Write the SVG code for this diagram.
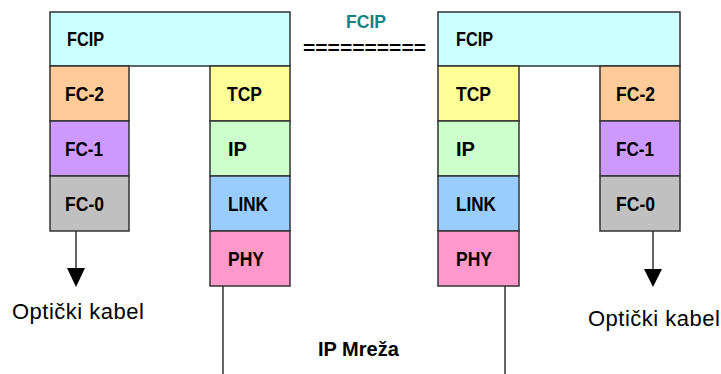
<svg xmlns="http://www.w3.org/2000/svg" width="721" height="374" viewBox="0 0 721 374">
  <style>
    .box { stroke: #333333; stroke-width: 1.5; }
    .lbl { font-family: "Liberation Sans", Arial, sans-serif; font-weight: bold; font-size: 20px; fill: #000000; }
    .cap { font-family: "Liberation Sans", Arial, sans-serif; font-size: 22px; letter-spacing: 0.5px; fill: #000000; }
    .net { font-family: "Liberation Sans", Arial, sans-serif; font-weight: bold; font-size: 20px; fill: #000000; }
    .link { stroke: #333333; stroke-width: 1.5; fill: none; }
    .fcip { fill: #CCFFFF; } .fc2 { fill: #FFCC99; } .fc1 { fill: #CC99FF; } .fc0 { fill: #C0C0C0; }
    .tcp { fill: #FFFF99; } .ip { fill: #CCFFCC; } .lnk { fill: #99CCFF; } .phy { fill: #FF99CC; }
  </style>
  <rect width="721" height="374" fill="#FFFFFF"/>

  <!-- left stack -->
  <g id="left-fcip"><rect class="box fcip" x="50" y="12" width="240" height="54"/><text class="lbl" x="67" y="46" textLength="37" lengthAdjust="spacingAndGlyphs">FCIP</text></g>
  <g id="left-fc2"><rect class="box fc2" x="50" y="66" width="79" height="55"/><text class="lbl" x="65" y="101" textLength="39" lengthAdjust="spacingAndGlyphs">FC-2</text></g>
  <g id="left-fc1"><rect class="box fc1" x="50" y="121" width="79" height="55"/><text class="lbl" x="65" y="156" textLength="38" lengthAdjust="spacingAndGlyphs">FC-1</text></g>
  <g id="left-fc0"><rect class="box fc0" x="50" y="176" width="79" height="55"/><text class="lbl" x="65" y="211" textLength="39" lengthAdjust="spacingAndGlyphs">FC-0</text></g>
  <g id="left-tcp"><rect class="box tcp" x="210" y="66" width="80" height="55"/><text class="lbl" x="227" y="101" textLength="35" lengthAdjust="spacingAndGlyphs">TCP</text></g>
  <g id="left-ip"><rect class="box ip" x="210" y="121" width="80" height="55"/><text class="lbl" x="228" y="156" textLength="19" lengthAdjust="spacingAndGlyphs">IP</text></g>
  <g id="left-link"><rect class="box lnk" x="210" y="176" width="80" height="55"/><text class="lbl" x="228" y="211" textLength="40" lengthAdjust="spacingAndGlyphs">LINK</text></g>
  <g id="left-phy"><rect class="box phy" x="210" y="231" width="80" height="55"/><text class="lbl" x="228" y="266" textLength="36" lengthAdjust="spacingAndGlyphs">PHY</text></g>

  <!-- right stack -->
  <g id="right-fcip"><rect class="box fcip" x="438" y="12" width="242" height="54"/><text class="lbl" x="456" y="46" textLength="37" lengthAdjust="spacingAndGlyphs">FCIP</text></g>
  <g id="right-tcp"><rect class="box tcp" x="438" y="66" width="81" height="55"/><text class="lbl" x="456" y="101" textLength="35" lengthAdjust="spacingAndGlyphs">TCP</text></g>
  <g id="right-ip"><rect class="box ip" x="438" y="121" width="81" height="55"/><text class="lbl" x="456" y="156" textLength="19" lengthAdjust="spacingAndGlyphs">IP</text></g>
  <g id="right-link"><rect class="box lnk" x="438" y="176" width="81" height="55"/><text class="lbl" x="456" y="211" textLength="40" lengthAdjust="spacingAndGlyphs">LINK</text></g>
  <g id="right-phy"><rect class="box phy" x="438" y="231" width="81" height="55"/><text class="lbl" x="456" y="266" textLength="36" lengthAdjust="spacingAndGlyphs">PHY</text></g>
  <g id="right-fc2"><rect class="box fc2" x="600" y="66" width="80" height="55"/><text class="lbl" x="616" y="101" textLength="39" lengthAdjust="spacingAndGlyphs">FC-2</text></g>
  <g id="right-fc1"><rect class="box fc1" x="600" y="121" width="80" height="55"/><text class="lbl" x="616" y="156" textLength="38" lengthAdjust="spacingAndGlyphs">FC-1</text></g>
  <g id="right-fc0"><rect class="box fc0" x="600" y="176" width="80" height="55"/><text class="lbl" x="616" y="211" textLength="39" lengthAdjust="spacingAndGlyphs">FC-0</text></g>

  <!-- peer link between the two FCIP layers -->
  <g id="fcip-peer">
    <text x="346" y="28" font-family="Liberation Sans, Arial, sans-serif" font-weight="bold" font-size="18" fill="#138282" textLength="40" lengthAdjust="spacingAndGlyphs">FCIP</text>
    <text x="303" y="54" font-family="Liberation Sans, Arial, sans-serif" font-weight="bold" font-size="18" fill="#000000" textLength="123" lengthAdjust="spacingAndGlyphs">==========</text>
  </g>

  <!-- connectors -->
  <g id="connectors">
    <line class="link" x1="76" y1="231" x2="76" y2="270"/>
    <polygon points="67,268 85,268 76,287" fill="#000000"/>
    <line class="link" x1="653" y1="231" x2="653" y2="270"/>
    <polygon points="644,269 662,269 653,287" fill="#000000"/>
    <line class="link" x1="223" y1="286" x2="223" y2="374"/>
    <line class="link" x1="505" y1="286" x2="505" y2="374"/>
  </g>

  <!-- media labels -->
  <g id="left-cable"><text class="cap" x="12" y="319">Optički kabel</text></g>
  <g id="right-cable"><text class="cap" x="588" y="326">Optički kabel</text></g>
  <g id="ip-network"><text class="net" x="318" y="356">IP Mreža</text></g>
</svg>
